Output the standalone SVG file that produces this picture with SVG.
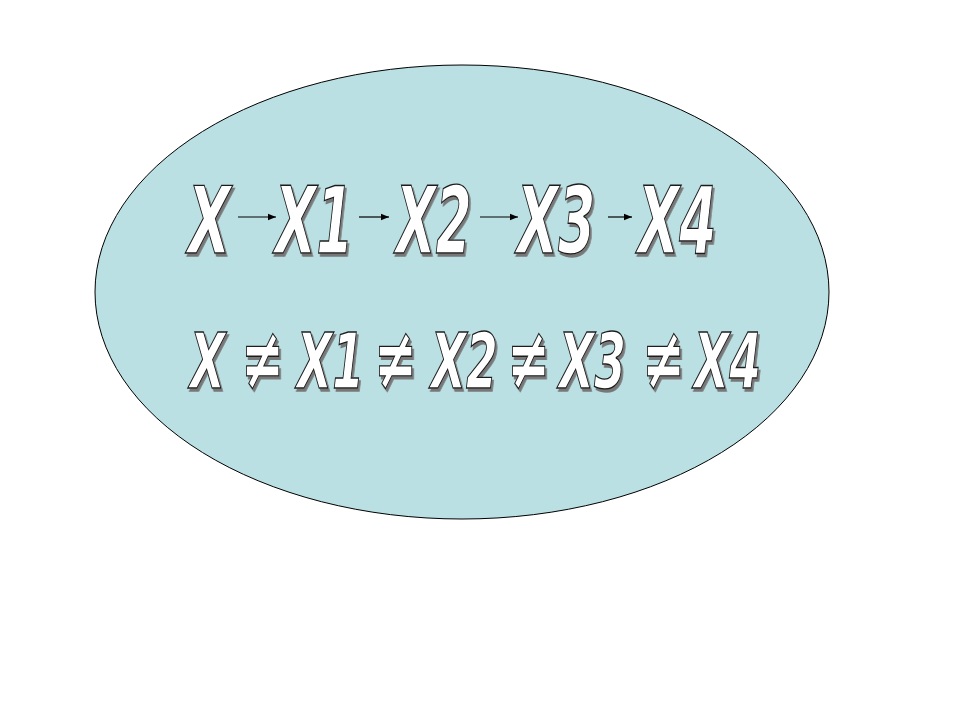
<svg xmlns="http://www.w3.org/2000/svg" width="960" height="720" viewBox="0 0 960 720">
<defs>
<style>
.t{font-family:"DejaVu Sans","Liberation Sans",Arial,sans-serif;font-weight:bold;font-style:italic;fill:#ffffff;stroke:#1a1a1a;stroke-width:1.4;filter:url(#sh)}
.big{font-size:92px}
.sm{font-size:76px}
.ne{font-size:86px}
.ar{stroke:#000;stroke-width:1.2;fill:none}
</style>
<filter id="sh" x="-10%" y="-10%" width="130%" height="130%">
<feDropShadow dx="3" dy="3" stdDeviation="0" flood-color="#777777" flood-opacity="1"/>
</filter>
<marker id="ah" viewBox="0 0 10 10" refX="10" refY="5" markerWidth="8" markerHeight="8" markerUnits="userSpaceOnUse" orient="auto">
<path d="M0,1 L10,5 L0,9 z" fill="#000"/>
</marker>
</defs>
<rect width="960" height="720" fill="#ffffff"/>
<g id="ellipse">
<ellipse cx="462" cy="292" rx="367" ry="227" fill="#bae0e4" stroke="#000" stroke-width="1"/>
</g>
<g id="row1">
<g id="n-X" transform="translate(188 253) scale(0.6 1)"><text class="t big" x="0" y="0">X</text></g>
<g id="n-X1" transform="translate(275 253) scale(0.58 1)"><text class="t big" x="0" y="0">X1</text></g>
<g id="n-X2" transform="translate(396 253) scale(0.56 1)"><text class="t big" x="0" y="0">X2</text></g>
<g id="n-X3" transform="translate(517 253) scale(0.58 1)"><text class="t big" x="0" y="0">X3</text></g>
<g id="n-X4" transform="translate(638 253) scale(0.58 1)"><text class="t big" x="0" y="0">X4</text></g>
</g>
<g id="connectors">
<line class="ar" x1="238" y1="217" x2="276" y2="217" marker-end="url(#ah)"/>
<line class="ar" x1="359" y1="217" x2="389" y2="217" marker-end="url(#ah)"/>
<line class="ar" x1="480" y1="217" x2="518" y2="217" marker-end="url(#ah)"/>
<line class="ar" x1="608" y1="217" x2="632" y2="217" marker-end="url(#ah)"/>
</g>
<g id="row2">
<text class="t sm" transform="scale(0.6 1)" y="388"><tspan x="316.7">X</tspan><tspan class="ne" x="401.7">≠</tspan><tspan x="495">X1</tspan><tspan class="ne" x="623.3">≠</tspan><tspan x="718.3">X2</tspan><tspan class="ne" x="845">≠</tspan><tspan x="931.7">X3</tspan><tspan class="ne" x="1070">≠</tspan><tspan x="1156.7">X4</tspan></text>
</g>
</svg>
